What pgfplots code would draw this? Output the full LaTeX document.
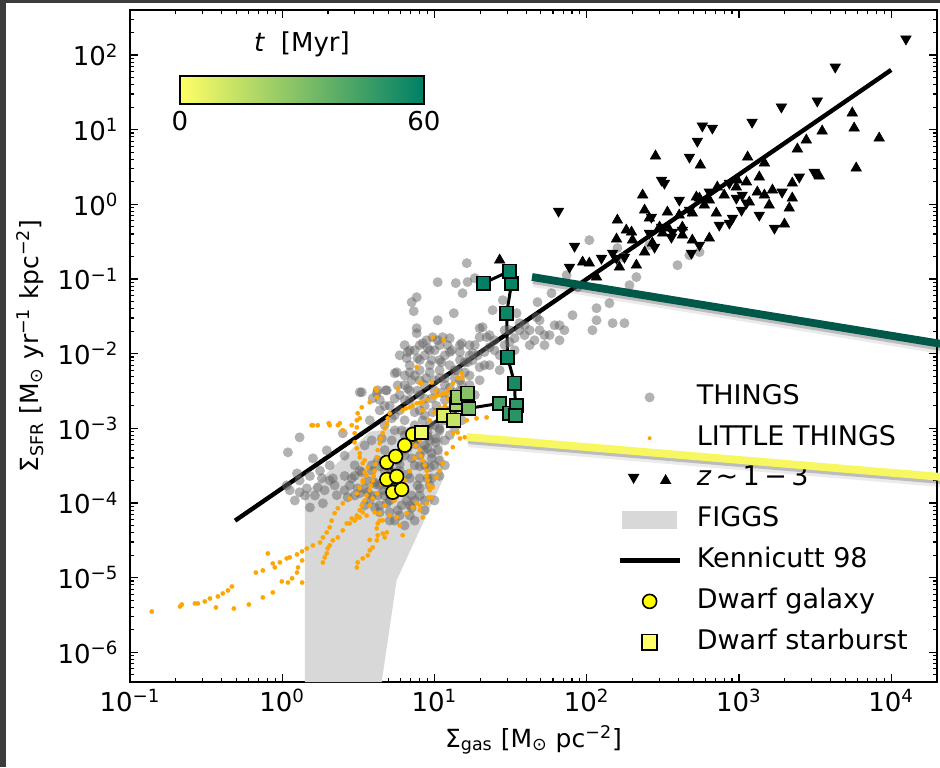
\documentclass[border=0pt]{standalone}
\usepackage{pgfplots}
\pgfplotsset{compat=1.18}
\usepackage{fontspec}
\setmainfont{DejaVu Sans}
\definecolor{bgdark}{HTML}{3C3C3C}
\definecolor{things}{HTML}{666666}
\definecolor{lt}{HTML}{FFA500}
\definecolor{figgs}{HTML}{D8D8D8}
\definecolor{agreen}{HTML}{005848}
\definecolor{ayellow}{HTML}{F7F760}
\definecolor{dgal}{HTML}{FFFF00}
\definecolor{dsb}{HTML}{FFFF66}
\begin{document}
\begin{tikzpicture}[font=\fontsize{13}{15.6}\selectfont]
\useasboundingbox (0,0) rectangle (470pt,383.5pt);
\fill[bgdark] (0,0) rectangle (470pt,383.5pt);
\fill[white] (3pt,0) rectangle (470pt,382pt);
\begin{axis}[
  at={(65pt,42.5pt)}, anchor=south west, scale only axis,
  width=403.5pt, height=336pt,
  xmode=log, ymode=log,
  xmin=0.1, xmax=2e4, ymin=4e-7, ymax=400,
  clip=false,
  axis line style={line width=1pt},
  tick align=inside,
  major tick length=4pt, minor tick length=2pt,
  tick style={black, line width=0.6pt},
  xtick={0.1,1,10,100,1000,10000},
  xticklabels={10\textsuperscript{−1},10\textsuperscript{0},10\textsuperscript{1},10\textsuperscript{2},10\textsuperscript{3},10\textsuperscript{4}},
  minor xtick={0.2,0.3,0.4,0.5,0.6,0.7,0.8,0.9,2,3,4,5,6,7,8,9,20,30,40,50,60,70,80,90,200,300,400,500,600,700,800,900,2000,3000,4000,5000,6000,7000,8000,9000},
  ytick={1e-6,1e-5,1e-4,1e-3,1e-2,1e-1,1,10,100},
  yticklabels={10\textsuperscript{−6},10\textsuperscript{−5},10\textsuperscript{−4},10\textsuperscript{−3},10\textsuperscript{−2},10\textsuperscript{−1},10\textsuperscript{0},10\textsuperscript{1},10\textsuperscript{2}},
  minor ytick={5e-7,6e-7,7e-7,8e-7,9e-7,2e-6,3e-6,4e-6,5e-6,6e-6,7e-6,8e-6,9e-6,2e-5,3e-5,4e-5,5e-5,6e-5,7e-5,8e-5,9e-5,2e-4,3e-4,4e-4,5e-4,6e-4,7e-4,8e-4,9e-4,2e-3,3e-3,4e-3,5e-3,6e-3,7e-3,8e-3,9e-3,0.02,0.03,0.04,0.05,0.06,0.07,0.08,0.09,0.2,0.3,0.4,0.5,0.6,0.7,0.8,0.9,2,3,4,5,6,7,8,9,20,30,40,50,60,70,80,90,200,300},
  yticklabel style={xshift=-2.2pt},
  xlabel={Σ\textsubscript{gas} [M\textsubscript{⊙} pc\textsuperscript{−2}]},
  ylabel={Σ\textsubscript{SFR} [M\textsubscript{⊙} yr\textsuperscript{−1} kpc\textsuperscript{−2}]},
  label style={font=\fontsize{12.5}{15}\selectfont},
  colormap={summerR}{rgb=(1,1,0.4) rgb=(0,0.5,0.4)},
  point meta min=0, point meta max=60,
  colorbar horizontal,
  colorbar style={
    at={(parent axis.north west)}, anchor=north west,
    xshift=25pt, yshift=-24.5pt,
    width=122pt, height=14pt,
    xtick={0,60}, xticklabels={0,60},
    xtick style={draw=none},
    axis line style={line width=1pt},
    title={{\itshape t}\ \ [Myr]},
  },
  legend cell align=left,
  legend style={at={(0.6035,0.4435)}, anchor=north west, draw=none, fill=none,
    inner sep=0pt, row sep=7.4pt,
    font=\fontsize{13.5}{16}\selectfont,
    nodes={inner sep=0pt, text height=10pt, text depth=3pt},
    /tikz/every odd column/.append style={column sep=7.5pt}},
]
% legend entries
\addlegendimage{legend image code/.code={\path[draw=none,fill=none] (0pt,-5pt) rectangle (30pt,5pt); \path[draw=none, fill=things, fill opacity=0.5] (15pt,0pt) circle (2.5pt);}}
\addlegendentry{THINGS}
\addlegendimage{legend image code/.code={\path[draw=none,fill=none] (0pt,-5pt) rectangle (30pt,5pt); \path[draw=none, fill=lt] (15pt,0pt) circle (1pt);}}
\addlegendentry{LITTLE THINGS}
\addlegendimage{legend image code/.code={\path[draw=none,fill=none] (0pt,-5pt) rectangle (30pt,5pt);
  \path[draw=none, fill=black] (4.1pt,2.5pt) -- (9.9pt,2.5pt) -- (7pt,-2.5pt) -- cycle;
  \path[draw=none, fill=black] (20.1pt,-2.5pt) -- (25.9pt,-2.5pt) -- (23pt,2.5pt) -- cycle;}}
\addlegendentry{{\itshape z}\,∼\,1\,−\,3}
\addlegendimage{legend image code/.code={\path[draw=none,fill=none] (0pt,-5pt) rectangle (30pt,5pt); \path[draw=none, fill=figgs] (1pt,-4.5pt) rectangle (28.5pt,4.5pt);}}
\addlegendentry{FIGGS}
\addlegendimage{legend image code/.code={\path[draw=none,fill=none] (0pt,-5pt) rectangle (30pt,5pt); \draw[black, line width=2.2pt] (0pt,0pt) -- (30pt,0pt);}}
\addlegendentry{Kennicutt 98}
\addlegendimage{legend image code/.code={\path[draw=none,fill=none] (0pt,-5pt) rectangle (30pt,5pt); \filldraw[fill=dgal, draw=black, line width=0.8pt] (15pt,0pt) circle (3.5pt);}}
\addlegendentry{Dwarf galaxy}
\addlegendimage{legend image code/.code={\path[draw=none,fill=none] (0pt,-5pt) rectangle (30pt,5pt); \filldraw[fill=dsb, draw=black, line width=0.8pt] (11.2pt,-3.8pt) rectangle (18.8pt,3.8pt);}}
\addlegendentry{Dwarf starburst}

% FIGGS region
\addplot[fill=figgs, draw=none, forget plot] coordinates {(1.41,4e-7) (1.41,1.3e-4) (3.76,9e-4) (11.3,1.2e-3) (11.3,2.0e-4) (5.64,9.2e-6) (4.5,4e-7)} -- cycle;

% THINGS
\addplot[only marks, mark=*, mark size=2.5pt, mark options={fill=things, fill opacity=0.5, draw opacity=0}, forget plot] coordinates {
(16.3,0.163) (10.5,0.0906) (13.8,0.088) (16.5,0.091) (15.3,0.0645) (7.64,0.057) (7.08,0.0489) (7.31,0.037)
(10.5,0.028) (13.4,0.0348) (19.8,0.0219) (7.64,0.0219) (9.73,0.0166) (12.6,0.0161) (22.0,0.0166) (24.1,0.0382)
(6.88,0.0111) (8.37,0.0138) (6.57,8.67e-3) (5.65,5.63e-3) (3.33,3.04e-3) (4.18,2.95e-3) (4.79,3.23e-3) (1.30,7.57e-4)
(7.64,0.0188) (8.89,0.0151) (11.3,0.0166) (15.1,0.0138) (17.8,8.15e-3) (5.48,5.46e-3) (5.73,3.77e-3) (3.23,3.04e-3)
(3.93,2.52e-3) (4.86,3.23e-3) (1.59,3.96e-4) (1.25,2.49e-4) (1.07,1.72e-4) (1.30,1.39e-4) (2.05,2.01e-4) (2.69,1.19e-4)
(3.23,1.35e-4) (1.85,9.9e-5) (1.52,8.7e-5) (1.09,4.77e-4) (1.96,5.07e-4) (2.50,8.57e-4) (4.24,3.23e-3) (1.12,1.48e-4)
(1.45,1.57e-4) (1.71,1.62e-4) (2.28,1.27e-4) (2.15,2.14e-4) (1.82,2.14e-4) (4.05,8.7e-5) (4.86,9.9e-5) (6.57,1.08e-4)
(8.02,1.57e-4) (9.31,3.0e-4) (9.59,4.62e-4) (8.37,1.28e-3) (18.4,0.1025) (395,0.153) (551,0.229) (73.8,0.1125)
(87.1,0.0777) (47.5,0.0489) (58.7,0.0645) (66.3,0.024) (80.7,0.0327) (116,0.0406) (116,0.028) (109,0.0206)
(148,0.0256) (177,0.0256) (141,0.0474) (212,0.106) (191,0.0826) (159,0.259) (172,0.196) (42.2,0.0206)
(46.9,0.0308) (34.6,0.0348) (36.2,0.0256) (31.1,0.0206) (28.1,0.052) (20.7,0.0226) (19.8,0.0166) (23.0,0.0122)
(19.8,6.58e-3) (17.8,0.0101) (39.1,0.024) (49.0,0.0206) (52.8,0.0177) (104,0.331) (258,0.284) (473,0.208)
(3.48,9.3e-5) (3.87,1.26e-4) (4.37,1.72e-4) (4.71,2.7e-4) (4.24,3.7e-4) (5.08,1.08e-4) (5.73,8.0e-5) (6.37,1.48e-4)
(6.88,2.14e-4) (7.41,3.2e-4) (8.00,4.3e-4) (8.63,5.9e-4) (9.31,6.9e-4) (10.5,5.1e-4) (10.8,9.4e-4) (4.37,7.5e-5)
(5.48,5.8e-5) (6.88,6.8e-5) (3.65,2.0e-4) (3.23,2.7e-4) (3.87,3.2e-4) (4.71,5.1e-4) (5.91,2.7e-4) (7.41,1.08e-4)
(9.02,2.14e-4) (10.0,3.2e-4) (11.7,6.9e-4) (8.63,1.08e-4) (5.24,6.9e-4) (6.09,9.4e-4) (7.41,9.4e-4) (9.31,1.10e-3)
(6.37,4.3e-4) (2.78,1.72e-4) (2.99,2.3e-4) (5.48,1.26e-4) (7.74,1.72e-4) (10.8,3.7e-4) (12.6,8.1e-4) (13.6,1.0e-3)
(6.37,0.0130) (7.41,0.0111) (8.63,9.5e-3) (10.0,0.0111) (11.7,9.5e-3) (6.88,7.0e-3) (8.00,6.0e-3) (9.31,7.0e-3)
(10.8,6.0e-3) (12.6,7.0e-3) (14.7,8.2e-3) (7.08,4.4e-3) (8.63,3.8e-3) (10.0,4.4e-3) (11.7,3.8e-3) (13.6,4.7e-3)
(15.8,5.6e-3) (8.00,2.8e-3) (9.59,2.5e-3) (11.7,2.4e-3) (13.6,3.0e-3) (17.0,3.8e-3) (5.91,9.5e-3) (10.5,0.0151)
(12.2,0.0130) (8.00,1.74e-3) (9.73,1.64e-3) (11.7,1.28e-3) (14.7,2.0e-3) (17.0,2.4e-3) (12.6,1.74e-3) (6.88,2.4e-3)
(5.91,2.8e-3) (5.08,2.0e-3) (4.37,1.74e-3) (5.48,1.49e-3) (6.37,1.28e-3) (7.41,6.9e-4) (9.02,8.8e-4) (15.1,1.28e-3)
(18.4,0.0130) (21.3,0.0105) (24.8,0.0151) (28.9,0.0130) (33.6,0.0161) (39.1,0.0177) (45.4,0.0151) (52.8,0.0130)
(26.8,9.5e-3) (33.6,0.0111) (23.0,0.0177) (28.9,0.0206) (57.0,0.0177) (61.5,0.024) (71.4,0.0206) (17.0,5.1e-3)
(19.8,4.4e-3) (23.0,7.0e-3) (14.7,3.2e-3) (18.4,2.8e-3)
(1.21,1.08e-4) (1.41,1.26e-4) (1.64,1.26e-4) (1.90,1.48e-4) (2.21,1.72e-4) (2.57,2.3e-4) (2.99,3.2e-4) (2.57,4.3e-4)
(2.05,3.2e-4) (1.77,2.7e-4) (1.52,2.3e-4) (1.30,2.0e-4)
(6.67,0.0105) (7.74,8.67e-3) (9.02,0.0118) (11.1,7.67e-3) (13.0,0.0111) (7.41,5.1e-3) (8.82,4.7e-3) (10.8,4.7e-3)
(12.6,3.5e-3) (15.1,3.8e-3) (8.63,2.0e-3) (10.3,2.0e-3) (13.6,2.2e-3) (11.1,3.0e-3) (7.74,3.2e-3) (6.67,3.4e-3)
(6.37,5.1e-3) (8.00,0.0130) (9.59,8.2e-3) (14.2,6.0e-3) (16.5,7.67e-3) (19.2,9.5e-3) (17.0,0.0130) (14.7,0.0105)
(3.76,1.08e-4) (4.24,1.26e-4) (4.93,1.72e-4) (5.24,2.7e-4) (5.73,3.7e-4) (6.67,5.4e-4) (7.74,7.3e-4) (9.02,5.4e-4)
(10.2,7.3e-4) (7.08,1.26e-4) (8.00,2.14e-4) (8.63,3.2e-4) (9.59,2.14e-4) (5.08,7.5e-5) (6.09,9.3e-5) (7.08,8.6e-5)
(4.71,1.26e-4) (5.91,1.89e-4) (4.05,1.89e-4) (3.48,1.57e-4) (2.99,1.26e-4) (2.57,1.48e-4)
(4.71,1.10e-3) (5.48,9.4e-4) (6.37,8.1e-4) (5.24,1.36e-3) (4.51,7.3e-4) (3.87,6.9e-4) (3.48,5.9e-4) (3.76,1.28e-3)
(4.37,2.4e-3)
(24.8,0.0111) (31.1,0.0142) (42.2,0.0130) (36.2,0.0206) (49.0,0.028) (66.3,0.0151) (21.3,7.0e-3) (26.8,6.0e-3)
(2.86,2.14e-4) (3.13,1.57e-4) (3.33,2.57e-4) (3.65,1.39e-4) (3.87,2.7e-4) (4.11,1.78e-4) (4.37,3.1e-4) (4.64,1.48e-4)
(4.93,2.42e-4) (5.24,3.7e-4) (5.56,1.89e-4) (5.91,3.3e-4) (6.28,5.1e-4) (6.67,2.42e-4) (7.08,3.96e-4) (7.53,6.1e-4)
(8.00,3.1e-4) (8.49,5.1e-4) (9.02,7.8e-4) (9.59,3.96e-4) (10.2,6.5e-4) (10.8,1.0e-3)
(5.91,1.74e-3) (6.37,2.4e-3) (6.88,3.2e-3) (7.41,1.64e-3) (8.00,4.4e-3) (8.63,2.5e-3) (9.31,5.6e-3) (10.0,3.2e-3)
(10.8,8.2e-3) (11.7,4.7e-3) (12.6,0.0105) (13.6,6.0e-3) (14.7,0.0130) (15.8,7.67e-3) (17.0,9.5e-3) (8.00,8.2e-3)
(6.88,5.6e-3) (9.31,0.0111) (10.8,0.0130) (12.6,2.8e-3) (14.7,4.4e-3) (6.37,3.8e-3) (5.48,2.5e-3) (4.71,2.0e-3)
(7.41,1.1e-3) (8.63,1.49e-3) (10.0,1.1e-3) (11.7,1.74e-3) (13.6,1.49e-3) (15.8,2.8e-3)
(5.91,6.8e-5) (6.88,9.3e-5) (8.00,1.26e-4) (9.31,1.72e-4) (10.8,2.3e-4) (11.7,3.2e-4) (10.0,1.08e-4) (8.63,8.0e-5)
(7.41,5.8e-5) (6.37,5.0e-5) (5.08,5.8e-5) (4.37,9.3e-5)
};

% LITTLE THINGS
\addplot[only marks, mark=*, mark size=1.1pt, mark options={fill=lt, draw=lt, line width=0.1pt}, forget plot] coordinates {
(0.139,3.52e-6) (0.213,4.11e-6) (0.219,4.37e-6) (0.267,4.51e-6) (0.279,4.51e-6) (0.310,4.80e-6) (0.335,5.26e-6) (0.378,5.6e-6)
(0.407,6.14e-6) (0.440,6.74e-6) (0.467,7.62e-6) (0.367,3.99e-6) (0.481,3.86e-6) (0.604,4.37e-6) (0.746,5.43e-6) (0.867,6.34e-6)
(0.994,8.9e-6) (0.671,1.17e-5) (0.746,1.25e-5) (0.894,1.37e-5) (0.867,1.55e-5) (0.965,1.60e-5) (1.07,1.81e-5) (1.12,1.87e-5)
(1.25,2.05e-5) (1.35,2.25e-5) (0.805,2.11e-5) (1.09,8.6e-6) (1.16,9.8e-6) (1.25,1.17e-5) (1.27,1.37e-5) (1.35,1.70e-5)
(1.35,8.6e-6) (1.45,2.46e-5) (1.59,2.7e-5) (1.77,2.96e-5) (1.85,3.46e-5) (1.96,4.04e-5) (2.05,4.71e-5) (2.11,5.8e-5)
(2.21,7.3e-5) (2.32,8.5e-5) (2.50,9.9e-5) (2.78,1.15e-4) (3.09,1.35e-4) (3.23,1.57e-4) (3.38,1.89e-4) (3.58,2.34e-4)
(3.65,3.0e-4) (3.48,3.72e-4) (3.23,4.62e-4) (3.09,5.4e-4) (2.99,6.5e-4)
(1.85,1.60e-5) (1.90,1.87e-5) (1.96,2.11e-5) (1.99,2.46e-5) (2.05,2.70e-5) (2.15,3.16e-5) (2.32,3.46e-5) (2.50,4.30e-5)
(2.78,5.33e-5) (3.09,6.41e-5) (3.38,7.48e-5) (3.76,9.3e-5) (3.93,1.15e-4) (4.18,1.35e-4) (4.51,1.83e-4) (4.71,2.49e-4)
(4.86,3.0e-4)
(3.09,1.37e-5) (3.13,1.60e-5) (3.38,1.81e-5) (3.65,1.99e-5) (3.76,2.32e-5) (3.93,2.54e-5) (4.18,3.16e-5) (4.24,3.68e-5)
(4.18,4.57e-5) (4.24,5.33e-5) (4.57,5.85e-5) (4.86,4.04e-5) (4.71,3.46e-5)
(2.65,5.33e-5) (2.86,6.2e-5) (3.23,6.4e-5) (3.58,6.8e-5) (4.05,7.5e-5) (4.37,7.3e-5) (4.57,3.9e-5) (3.76,3.2e-5)
(1.56,1.10e-3) (1.71,1.10e-3) (2.02,1.17e-3) (2.39,1.17e-3) (2.86,1.10e-3) (3.09,1.28e-3) (3.13,1.59e-3) (3.33,1.91e-3)
(3.76,2.23e-3) (4.18,2.61e-3) (3.23,4.08e-4) (3.38,3.40e-4) (3.48,2.57e-4) (3.38,2.01e-4) (3.23,1.62e-4)
(7.19,6.9e-4) (8.00,5.1e-4) (8.37,3.7e-4) (8.89,2.7e-4) (9.02,2.0e-4) (9.31,1.48e-4) (8.89,9.9e-5) (7.19,8.7e-5)
(6.57,7.3e-5) (5.65,6.4e-5) (4.37,5.8e-5)
(5.08,1.59e-3) (4.86,1.17e-3) (4.57,8.6e-4) (4.37,6.3e-4) (4.18,4.1e-4) (4.05,2.7e-4) (3.93,2.0e-4) (3.76,1.48e-4)
(3.48,1.08e-4) (3.23,8.0e-5) (2.99,5.8e-5)
(6.18,1.74e-3) (6.88,1.91e-3) (7.64,2.16e-3) (8.37,2.23e-3) (9.73,2.61e-3) (10.8,2.8e-3) (12.0,3.0e-3) (13.2,4.0e-3)
(15.1,5.5e-3)
(3.23,1.36e-3) (3.09,1.03e-3) (2.99,8.6e-4) (1.59,1.10e-3) (2.05,1.10e-3) (2.32,1.10e-3) (2.50,9.4e-4) (9.73,0.0166)
(4.18,3.2e-3) (5.73,3.4e-3) (8.00,4.1e-3) (9.59,4.1e-3) (10.3,3.2e-3) (8.37,1.74e-3)
(13.2,8.6e-4) (14.7,7.3e-4) (13.2,5.6e-4) (12.0,4.6e-4) (11.3,3.4e-4) (10.8,2.7e-4) (10.3,2.2e-4) (9.73,1.62e-4)
(9.59,1.19e-4) (7.64,9.9e-5) (8.00,8.0e-5) (8.37,6.4e-5)
(18.9,1.36e-3) (22.0,1.40e-3) (16.3,1.28e-3) (11.5,0.0151) (7.64,6.6e-3) (15.3,4.7e-3) (8.24,4.0e-3) (4.11,3.4e-3)
(5.48,1.08e-4) (5.91,1.48e-4) (6.37,2.0e-4) (6.88,2.7e-4) (7.41,4.0e-4) (8.00,6.9e-4) (8.63,9.4e-4) (9.31,1.28e-3)
(10.0,1.64e-3) (10.8,1.85e-3) (11.7,2.0e-3) (12.2,2.5e-3) (4.71,9.3e-5) (5.08,6.8e-5) (5.91,5.0e-5) (6.18,3.7e-5)
(14.2,8.8e-4) (15.8,7.6e-4)
(4.93,1.36e-3) (4.71,1.0e-3) (4.44,7.3e-4) (4.24,5.1e-4) (4.11,3.3e-4) (3.99,2.3e-4) (3.82,1.72e-4) (3.58,1.26e-4)
(3.33,9.3e-5) (3.09,6.8e-5)
(7.53,5.9e-4) (8.12,4.3e-4) (8.63,3.2e-4) (8.89,2.3e-4) (9.17,1.72e-4) (9.17,1.19e-4) (8.00,9.3e-5)
(6.5,1.85e-3) (7.19,2.0e-3) (8.0,2.2e-3) (9.02,2.4e-3) (10.3,2.7e-3) (11.5,2.9e-3) (12.6,3.4e-3) (14.2,4.7e-3)
};

% z ~ 1-3 down triangles
\addplot[only marks, mark=triangle*, mark size=3pt, mark options={rotate=180, fill=black, draw=black, line width=0.3pt}, forget plot] coordinates {
(1.25e4,164) (4290,69.0) (3270,24.2) (1900,20.1) (1220,12.6) (575,11.2) (669,10.5) (533,7.01)
(473,4.29) (310,2.11) (324,1.92) (65.3,0.811) (83.2,0.275) (77.1,0.144) (125,0.190) (148,0.222)
(157,0.190) (177,0.196) (266,0.674) (258,0.411) (279,0.267) (366,0.424) (425,0.451) (487,0.222)
(550,0.284) (639,1.46) (865,1.92) (961,1.21) (1050,1.33) (865,0.560) (906,0.653) (1040,0.836)
(1120,1.04) (1920,1.46) (2490,2.32) (3120,2.70) (360,0.363) (310,0.494) (473,0.836) (743,0.526)
(406,1.14) (1360,0.716) (1710,0.48)
};
% z ~ 1-3 up triangles
\addplot[only marks, mark=triangle*, mark size=3pt, mark options={fill=black, draw=black, line width=0.3pt}, forget plot] coordinates {
(5550,16.7) (5710,10.5) (8340,7.71) (5890,3.06) (3520,9.57) (2770,7.26) (2420,5.50) (1140,4.29)
(1470,3.57) (1360,2.32) (1320,1.46) (1660,1.55) (2240,1.92) (2240,1.21) (2140,0.889) (1990,0.543)
(1120,1.99) (1170,1.07) (977,2.11) (961,1.70) (721,1.70) (639,1.14) (550,1.21) (525,1.25)
(494,0.762) (710,0.762) (558,3.35) (283,4.43) (233,1.33) (240,0.836) (258,0.653) (339,0.786)
(344,0.480) (301,0.494) (315,0.411) (425,0.494) (425,0.386) (494,0.331) (639,0.352) (197,0.424)
(159,0.614) (157,0.342) (182,0.451) (200,0.331) (240,0.229) (270,0.302) (212,0.153) (164,0.144)
(104,0.163) (94,0.168) (116,0.106) (26.8,0.179) (592,0.976) (800,1.33) (405,0.716) (1470,1.33)
(1580,0.976) (3370,2.39)
};

% Kennicutt 98
\addplot[black, line width=2.2pt, forget plot] coordinates {(0.49,5.8e-5) (1e4,63)};

% dwarf track
\addplot[black, line width=1.5pt, forget plot] coordinates {
(5.32,1.39e-4) (6.09,1.52e-4) (4.86,2.07e-4) (5.65,2.27e-4) (4.86,3.50e-4) (5.56,4.21e-4) (6.37,5.92e-4) (7.19,8.31e-4)
(8.24,8.83e-4) (11.5,1.49e-3) (13.4,1.28e-3) (14.0,2.10e-3) (14.2,2.61e-3) (16.5,2.95e-3) (16.8,1.85e-3) (26.8,2.16e-3)
(31.1,1.59e-3) (34.6,2.03e-3) (34.1,1.49e-3) (33.6,4.01e-3) (30.2,8.95e-3) (29.8,0.0348) (32.1,0.0879) (31.1,0.127) (21.0,0.0879)
};
% dwarf galaxy
\addplot[only marks, mark=*, mark size=3.4pt, mark options={fill=dgal, draw=black, line width=0.8pt}, forget plot] coordinates {
(5.32,1.39e-4) (6.09,1.52e-4) (4.86,2.07e-4) (5.65,2.27e-4) (4.86,3.50e-4) (5.56,4.21e-4) (6.37,5.92e-4) (7.19,8.31e-4)
};
% dwarf starburst
\addplot[scatter, only marks, mark=square*, mark size=3.3pt, point meta=explicit,
  scatter/use mapped color={draw=black, fill=mapped color}, mark options={line width=0.8pt}, forget plot]
  table[meta=t, row sep=\\] {
x y t\\
8.24 8.83e-4 3\\
11.5 1.49e-3 8\\
13.4 1.28e-3 13\\
14.0 2.10e-3 20\\
14.2 2.61e-3 24\\
16.5 2.95e-3 28\\
16.8 1.85e-3 31\\
26.8 2.16e-3 44\\
31.1 1.59e-3 47\\
34.6 2.03e-3 49\\
34.1 1.49e-3 50\\
33.6 4.01e-3 54\\
30.2 8.95e-3 56\\
29.8 0.0348 57\\
32.1 0.0879 58\\
31.1 0.127 59\\
21.0 0.0879 60\\
};
\end{axis}
% annotation pointers with soft shadow
\draw[black, opacity=0.08, line width=6.5pt] (266.8pt,243.2pt) -- (471pt,209.7pt);
\draw[black, opacity=0.20, line width=4.6pt] (266.5pt,243.8pt) -- (471pt,210.3pt);
\draw[agreen, line width=3.9pt] (266pt,245pt) -- (471pt,211.5pt);
\draw[black, opacity=0.08, line width=6.5pt] (234.3pt,163.2pt) -- (471pt,143.2pt);
\draw[black, opacity=0.20, line width=4.6pt] (234pt,163.8pt) -- (471pt,143.8pt);
\draw[ayellow, line width=3.9pt] (233.5pt,165pt) -- (471pt,145pt);
\end{tikzpicture}
\end{document}
